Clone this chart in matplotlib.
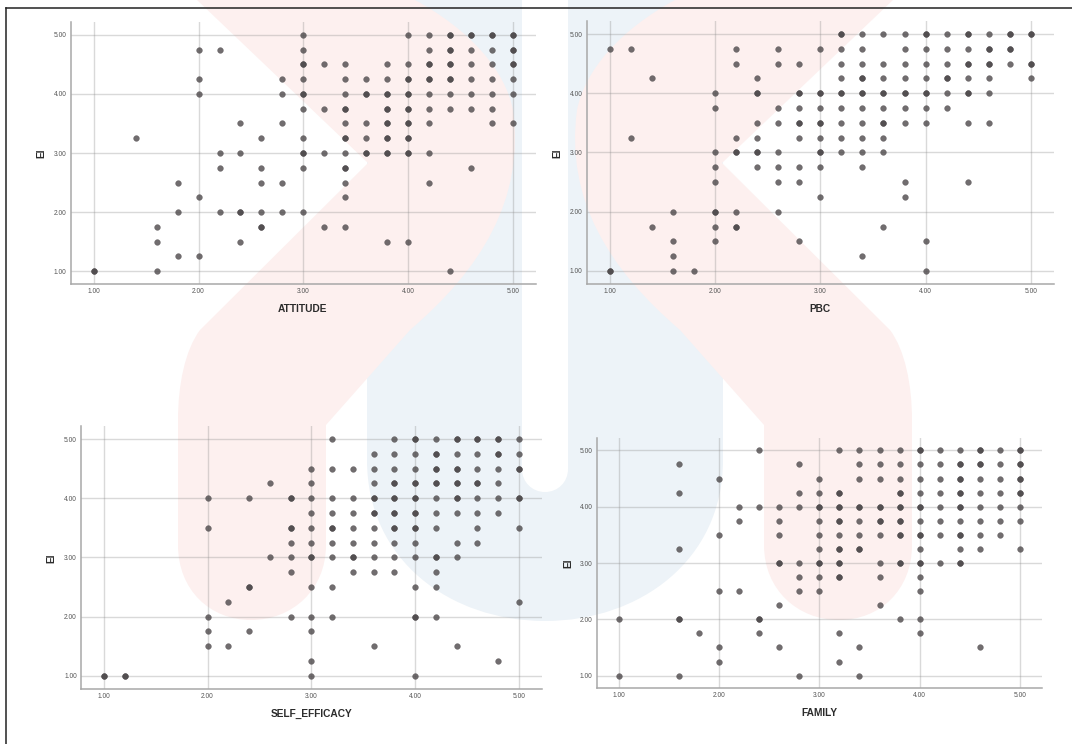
import matplotlib
matplotlib.use("Agg")
import matplotlib.pyplot as plt
from matplotlib.path import Path
from matplotlib.patches import PathPatch

plt.rcParams['font.family'] = ['Liberation Sans', 'DejaVu Sans']

W, H = 1072, 744

# EI levels, top to bottom; each x list below holds the points seen on that row
ei_levels = [5.0, 4.75, 4.5, 4.25, 4.0, 3.75, 3.5, 3.25, 3.0, 2.75, 2.5, 2.25, 2.0, 1.75, 1.5, 1.25, 1.0]

attitude_x = [
    [3.0, 4.0, 4.2, 4.4, 4.6, 4.8, 5.0],
    [2.0, 2.2, 3.0, 4.2, 4.4, 4.6, 4.8, 5.0],
    [3.0, 3.2, 3.4, 3.8, 4.0, 4.2, 4.4, 4.6, 4.8, 5.0],
    [2.0, 2.8, 3.0, 3.4, 3.6, 3.8, 4.0, 4.2, 4.4, 4.6, 4.8, 5.0],
    [2.0, 2.8, 3.0, 3.4, 3.6, 3.8, 4.0, 4.2, 4.4, 4.6, 4.8, 5.0],
    [3.0, 3.2, 3.4, 3.8, 4.0, 4.2, 4.4, 4.6, 4.8],
    [2.4, 2.8, 3.4, 3.6, 3.8, 4.0, 4.2, 4.8, 5.0],
    [1.4, 2.6, 3.0, 3.4, 3.6, 3.8, 4.0],
    [2.2, 2.4, 3.0, 3.2, 3.4, 3.6, 3.8, 4.0, 4.2],
    [2.2, 2.6, 3.0, 3.4, 4.6],
    [1.8, 2.6, 2.8, 3.4, 4.2],
    [2.0, 3.4],
    [1.8, 2.2, 2.4, 2.6, 2.8, 3.0],
    [1.6, 2.6, 3.2, 3.4],
    [1.6, 2.4, 3.8, 4.0],
    [1.8, 2.0],
    [1.0, 1.6, 4.4],
]

pbc_x = [
    [3.2, 3.4, 3.6, 3.8, 4.0, 4.2, 4.4, 4.6, 4.8, 5.0],
    [1.0, 1.2, 2.2, 2.6, 3.0, 3.2, 3.4, 3.8, 4.0, 4.2, 4.4, 4.6, 4.8],
    [2.2, 2.6, 2.8, 3.2, 3.4, 3.6, 3.8, 4.0, 4.2, 4.4, 4.6, 4.8, 5.0],
    [1.4, 2.4, 3.2, 3.4, 3.6, 3.8, 4.0, 4.2, 4.4, 4.6, 5.0],
    [2.0, 2.4, 2.8, 3.0, 3.2, 3.4, 3.6, 3.8, 4.0, 4.2, 4.4, 4.6],
    [2.0, 2.6, 2.8, 3.0, 3.2, 3.4, 3.6, 3.8, 4.0, 4.2],
    [2.4, 2.6, 2.8, 3.0, 3.2, 3.4, 3.6, 3.8, 4.0, 4.4, 4.6],
    [1.2, 2.2, 2.4, 2.8, 3.0, 3.2, 3.4, 3.6],
    [2.0, 2.2, 2.4, 2.6, 3.0, 3.2, 3.4, 3.6],
    [2.0, 2.4, 2.6, 2.8, 3.0, 3.4],
    [2.0, 2.6, 2.8, 3.8, 4.4],
    [3.0, 3.8],
    [1.6, 2.0, 2.2, 2.6],
    [1.4, 2.0, 2.2, 3.6],
    [1.6, 2.0, 2.8, 4.0],
    [1.6, 3.4],
    [1.0, 1.6, 1.8, 4.0],
]

self_efficacy_x = [
    [3.2, 3.8, 4.0, 4.2, 4.4, 4.6, 4.8, 5.0],
    [3.6, 3.8, 4.0, 4.2, 4.4, 4.6, 4.8, 5.0],
    [3.0, 3.2, 3.4, 3.6, 3.8, 4.0, 4.2, 4.4, 4.6, 4.8, 5.0],
    [2.6, 3.0, 3.6, 3.8, 4.0, 4.2, 4.4, 4.6, 4.8],
    [2.0, 2.4, 2.8, 3.0, 3.2, 3.4, 3.6, 3.8, 4.0, 4.2, 4.4, 4.6, 4.8, 5.0],
    [3.0, 3.2, 3.4, 3.6, 3.8, 4.0, 4.2, 4.4, 4.6, 4.8],
    [2.0, 2.8, 3.0, 3.2, 3.4, 3.6, 3.8, 4.0, 4.2, 4.6, 5.0],
    [2.8, 3.0, 3.2, 3.4, 3.6, 3.8, 4.0, 4.4, 4.6],
    [2.6, 2.8, 3.0, 3.2, 3.4, 3.6, 3.8, 4.0, 4.2, 4.4],
    [2.8, 3.4, 3.6, 3.8, 4.2],
    [2.4, 3.0, 3.2, 4.0, 4.2],
    [2.2, 5.0],
    [2.0, 2.8, 3.0, 3.2, 4.0, 4.2],
    [2.0, 2.4, 3.0],
    [2.0, 2.2, 3.6, 4.4],
    [3.0, 4.8],
    [1.0, 1.2, 3.0, 4.0],
]

family_x = [
    [2.4, 3.2, 3.4, 3.6, 3.8, 4.0, 4.2, 4.4, 4.6, 4.8, 5.0],
    [1.6, 2.8, 3.4, 3.6, 3.8, 4.0, 4.2, 4.4, 4.6, 4.8, 5.0],
    [2.0, 3.0, 3.4, 3.6, 3.8, 4.0, 4.2, 4.4, 4.6, 4.8, 5.0],
    [1.6, 2.8, 3.0, 3.2, 3.8, 4.0, 4.2, 4.4, 4.6, 4.8, 5.0],
    [2.2, 2.4, 2.6, 2.8, 3.0, 3.2, 3.4, 3.6, 3.8, 4.0, 4.2, 4.4, 4.6, 4.8, 5.0],
    [2.2, 2.6, 3.0, 3.2, 3.4, 3.6, 3.8, 4.0, 4.2, 4.4, 4.6, 4.8, 5.0],
    [2.0, 2.6, 3.0, 3.2, 3.4, 3.6, 3.8, 4.0, 4.2, 4.4, 4.6, 4.8],
    [1.6, 3.0, 3.2, 3.4, 4.0, 4.4, 4.6, 5.0],
    [2.6, 2.8, 3.0, 3.2, 3.6, 3.8, 4.0, 4.2, 4.4],
    [2.8, 3.0, 3.2, 3.6, 4.0],
    [2.0, 2.2, 2.8, 3.0, 4.0],
    [2.6, 3.6],
    [1.0, 1.6, 2.4, 3.8, 4.0],
    [1.8, 2.4, 3.2, 4.0],
    [2.0, 2.6, 3.4, 4.6],
    [2.0, 3.2],
    [1.0, 1.6, 2.8, 3.4],
]

# points that show darker in the picture, so several cases sit on top of each other
attitude_repeat = [
    [4.4, 4.6, 4.8, 5.0], [4.4, 5.0], [3.0, 4.2, 4.4, 5.0], [4.0, 4.2, 4.4],
    [3.0, 3.6, 3.8, 4.0], [3.4, 3.8, 4.0], [3.8, 4.0], [3.4, 3.8, 4.0],
    [3.0, 3.6, 3.8, 4.0], [3.4], [], [], [2.4], [2.6], [], [], [1.0],
]
pbc_repeat = [
    [3.2, 4.0, 4.4, 4.8, 5.0], [4.6, 4.8], [4.4, 4.6, 5.0], [3.4, 4.2],
    [2.4, 2.8, 3.0, 3.2, 3.4, 3.6, 3.8, 4.0, 4.4], [], [2.8, 3.0, 3.6], [],
    [2.2, 2.4, 3.0], [], [], [], [2.0], [2.2], [], [], [1.0],
]
self_efficacy_repeat = [
    [4.0, 4.4, 4.6, 4.8], [4.2, 4.8], [4.2, 4.4, 5.0], [3.8, 4.0, 4.2, 4.4, 4.6],
    [2.8, 3.6, 3.8, 4.0, 4.4, 5.0], [3.6, 3.8, 4.0], [2.8, 3.2, 3.8, 4.0], [],
    [3.0, 3.4, 4.2], [], [2.4], [], [4.0], [], [], [], [1.0, 1.2],
]
family_repeat = [
    [4.0, 4.6, 5.0], [4.4, 4.6, 5.0], [4.4, 5.0], [3.2, 3.8, 4.4, 5.0],
    [3.0, 3.2, 3.4, 3.6, 3.8, 4.0, 4.4], [3.2, 3.6, 3.8], [3.8, 4.0, 4.4], [3.2, 3.4],
    [2.6, 3.0, 3.2, 3.8, 4.0, 4.4], [3.2], [], [], [1.6, 2.4], [], [], [], [],
]

ticks = [1.0, 2.0, 3.0, 4.0, 5.0]


def axes_px(fig, left, top, right, bottom):
    """Axes placed by pixel edges, y counted from the top of the image."""
    return fig.add_axes([left / W, 1 - bottom / H, (right - left) / W, (bottom - top) / H])


def watermark_side(mirror=False):
    """One half of the pale red logo behind the charts."""
    verts = [(197, 0), (368, 163), (200, 330),
             (185, 350), (178, 385), (178, 420),
             (178, 545),
             (178, 590), (210, 620), (251, 620),
             (292, 620), (326, 590), (326, 545),
             (326, 425), (410, 330),
             (480, 270), (525, 200), (513, 110),
             (505, 70), (470, 30), (415, 0),
             (197, 0)]
    codes = [Path.MOVETO, Path.LINETO, Path.LINETO,
             Path.CURVE4, Path.CURVE4, Path.CURVE4,
             Path.LINETO,
             Path.CURVE4, Path.CURVE4, Path.CURVE4,
             Path.CURVE4, Path.CURVE4, Path.CURVE4,
             Path.LINETO, Path.LINETO,
             Path.CURVE4, Path.CURVE4, Path.CURVE4,
             Path.CURVE4, Path.CURVE4, Path.CURVE4,
             Path.CLOSEPOLY]
    if mirror:
        verts = [(1090 - x, y) for x, y in verts]
    return Path(verts, codes)


def blue_u():
    verts = [(367, 0), (367, 460),
             (367, 560), (450, 621), (545, 621),
             (640, 621), (723, 560), (723, 460),
             (723, 0), (568, 0), (568, 469),
             (568, 482), (558, 492), (545, 492),
             (532, 492), (522, 482), (522, 469),
             (522, 0), (367, 0)]
    codes = [Path.MOVETO, Path.LINETO,
             Path.CURVE4, Path.CURVE4, Path.CURVE4,
             Path.CURVE4, Path.CURVE4, Path.CURVE4,
             Path.LINETO, Path.LINETO, Path.LINETO,
             Path.CURVE4, Path.CURVE4, Path.CURVE4,
             Path.CURVE4, Path.CURVE4, Path.CURVE4,
             Path.LINETO, Path.CLOSEPOLY]
    return Path(verts, codes)


def panel(fig, box, rows, repeats, xname, xlabel_px, ylabel_px):
    left, top, right, bottom = box
    ax = axes_px(fig, left, top, right, bottom)
    ax.patch.set_alpha(0)

    xs, ys = [], []
    for level, row, extra in zip(ei_levels, rows, repeats):
        for x in row + extra:
            xs.append(x)
            ys.append(level)

    ax.scatter(xs, ys, s=17, color='#4d494b', alpha=0.8, linewidth=0.3, zorder=3)

    ax.set_xlim(0.78, 5.22)
    ax.set_ylim(0.78, 5.22)
    ax.set_xticks(ticks)
    ax.set_yticks(ticks)
    ax.set_xticklabels([f'{t:.2f}' for t in ticks])
    ax.set_yticklabels([f'{t:.2f}' for t in ticks])
    ax.tick_params(length=0, labelsize=4.8, labelcolor='#555555', pad=3)
    ax.grid(True, color='#8a8a8a', alpha=0.32, linewidth=1.0)
    ax.set_axisbelow(True)

    for s in ['top', 'right']:
        ax.spines[s].set_visible(False)
    for s in ['left', 'bottom']:
        ax.spines[s].set_color('#a8a8a8')
        ax.spines[s].set_linewidth(1.1)

    # labels sit at measured offsets, same as the original layout
    fig.text(xlabel_px[0] / W, 1 - xlabel_px[1] / H, xname, ha='center', va='center',
             fontsize=7.3, fontweight='bold', color='#2b2b2b')
    fig.text(ylabel_px[0] / W, 1 - ylabel_px[1] / H, 'EI', ha='center', va='center',
             rotation=90, fontsize=7.3, fontweight='bold', color='#2b2b2b')
    return ax


fig = plt.figure(figsize=(W / 100, H / 100), dpi=100, facecolor='white')

# background logo and the thin frame of the pasted page
bg = fig.add_axes([0, 0, 1, 1], zorder=-1)
bg.set_xlim(0, W)
bg.set_ylim(H, 0)
bg.axis('off')
bg.add_patch(PathPatch(blue_u(), facecolor='#edf3f8', edgecolor='none'))
bg.add_patch(PathPatch(watermark_side(), facecolor='#fdf0ef', edgecolor='none'))
bg.add_patch(PathPatch(watermark_side(mirror=True), facecolor='#fdf0ef', edgecolor='none'))
bg.plot([5.5, W], [7.5, 7.5], color='#222222', linewidth=1.1)
bg.plot([5.5, 5.5], [7.5, H], color='#222222', linewidth=1.1)

panel(fig, (70.7, 22, 536, 284), attitude_x, attitude_repeat, 'ATTITUDE', (303, 309), (41.7, 153))
panel(fig, (586.7, 21, 1054, 284), pbc_x, pbc_repeat, 'PBC', (820, 309), (557, 153))
panel(fig, (81, 426, 541.7, 688.7), self_efficacy_x, self_efficacy_repeat, 'SELF_EFFICACY', (311.7, 714), (51.7, 558))
panel(fig, (596.7, 438, 1042, 688), family_x, family_repeat, 'FAMILY', (819, 712.7), (568, 563))

fig.savefig('out.png', dpi=100)
